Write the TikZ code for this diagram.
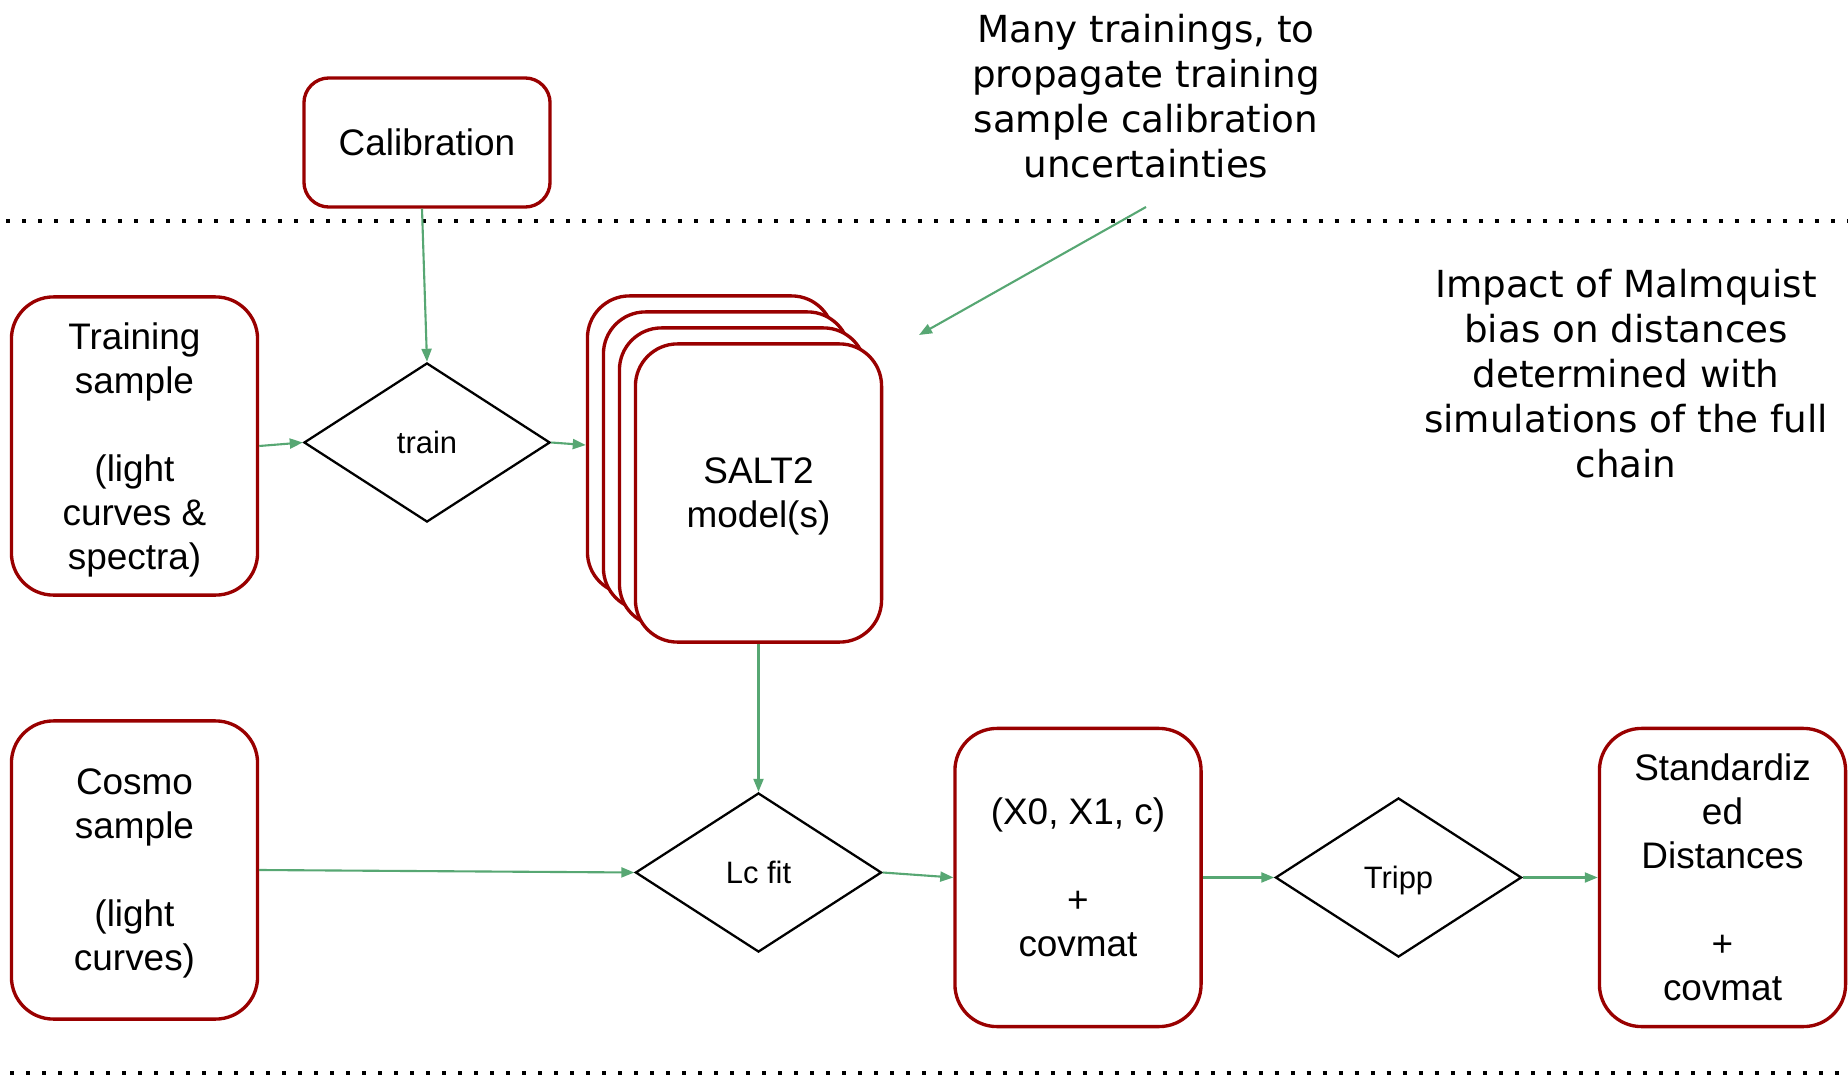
\documentclass[tikz,border=0pt]{standalone}
\usepackage{fontspec}
\setmainfont{Liberation Sans}
\newfontfamily\notefont{DejaVu Sans}
\usetikzlibrary{shapes.geometric,arrows.meta}
\definecolor{boxred}{RGB}{153,0,0}
\definecolor{arrgreen}{RGB}{87,167,115}
\newcommand\bxfont{\fontsize{10.5pt}{12.5pt}\selectfont}
\newcommand\dmfont{\fontsize{8.8pt}{10.5pt}\selectfont}
\newcommand\ntfont{\notefont\fontsize{10.6pt}{12.75pt}\selectfont}
\begin{document}
\begin{tikzpicture}[x=0.01cm,y=-0.01cm,>={Triangle[length=0.13cm,width=0.1cm]},
    box/.style={draw=boxred,line width=0.95pt,fill=white,rounded corners=0.42cm,minimum width=2.46cm,minimum height=2.98cm,inner sep=0pt,text depth=0pt,align=center,font=\bxfont},
    dia/.style={diamond,draw,line width=0.65pt,minimum width=2.46cm,minimum height=1.59cm,inner sep=0pt,text depth=0pt,font=\dmfont},
    note/.style={align=center,font=\ntfont},
    flow/.style={->,color=arrgreen,line width=0.6pt},
    dots/.style={line width=0.04cm,dash pattern=on 0.04cm off 0.12cm}]
\useasboundingbox (0,0) rectangle (1848,1076);
\draw[dots](6,221)--(1848,221);
\draw[dots](10,1073)--(1848,1073);

\node[box,rounded corners=0.25cm,minimum height=1.29cm](calib) at (427,142.5){Calibration};
\node[box](trsamp) at (134.5,446){Training\\sample\\[\baselineskip](light\\curves \&\\spectra)};
\node[dia](train) at (427,442.5){train};
\foreach \i in {3,2,1} \node[box](salt\i) at (758.5-16*\i,493-16*\i){};
\node[box](salt) at (758.5,493){SALT2\\model(s)};
\node[box](cosmo) at (134.5,870){Cosmo\\sample\\[\baselineskip](light\\curves)};
\node[dia](lcfit) at (758.5,872.5){Lc fit};
\node[box](params) at (1078,877.5){(X0, X1, c)\\[\baselineskip]+\\covmat};
\node[dia](tripp) at (1398.5,877.5){Tripp};
\node[box](dist) at (1722.5,877.5){Standardiz\\ed\\Distances\\[\baselineskip]+\\covmat};

\node[note](many) at (1146,96){Many trainings, to\\propagate training\\sample calibration\\uncertainties};
\node[note](malm) at (1626,373.5){Impact of Malmquist\\bias on distances\\determined with\\simulations of the full\\chain};
\coordinate (from) at (1146,207);
\coordinate (to) at (919,335);

\draw[flow](from)--(to);
\draw[flow]([xshift=-0.05cm]calib.south)--(train.north);
\draw[flow](trsamp.east)--(train.west);
\draw[flow](train.east)--(salt3.west);
\draw[flow](salt.south)--(lcfit.north);
\draw[flow](cosmo.east)--(lcfit.west);
\draw[flow](lcfit.east)--(params.west);
\draw[flow](params.east)--(tripp.west);
\draw[flow](tripp.east)--(dist.west);
\end{tikzpicture}
\end{document}
